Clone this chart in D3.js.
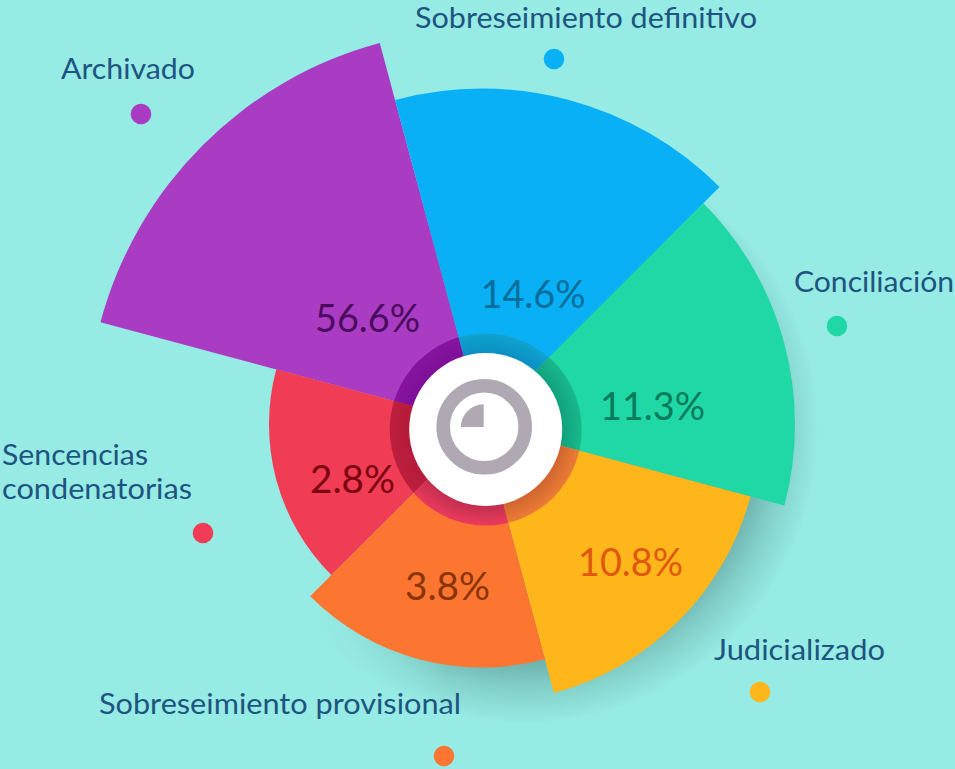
<!DOCTYPE html>
<html>
<head>
<meta charset="utf-8">
<script src="https://cdn.jsdelivr.net/npm/d3@7"></script>
<style>
html, body { margin: 0; padding: 0; background: #96ebe4; overflow: hidden; }
svg { display: block; }
text { font-family: Lato, "Open Sans", sans-serif; }
</style>
</head>
<body>
<svg id="chart" width="955" height="769"></svg>
<script>
// clockwise, starting from the purple slice
const categories = ['Archivado', 'Sobreseimiento definitivo', 'Conciliación', 'Judicializado', 'Sobreseimiento provisional', 'Sencencias condenatorias']
const values = [56.6, 14.6, 11.3, 10.8, 3.8, 2.8]

const sliceColors = ['#aa3cc4', '#0ab0f5', '#1fd8a6', '#ffb61b', '#fd7631', '#f13c55']
const valueColors = ['#4a0a5e', '#076d99', '#0a7a5c', '#e0570f', '#8a3408', '#7a0410']
const ringInner = ['#7f0f98', '#0b8fc4', '#11a27c', '#d0652e', '#c22f4f', '#b51b3a']
const ringOuter = ['#86149e', '#10a3cf', '#1ab88c', '#ec7c36', '#ea3a5c', '#bd1f3e']

const width = 955, height = 769
const center = {x: 482, y: 424.5}      // where the slice edges meet
const hub = {x: 485.7, y: 429.5}       // white disc + ring sit slightly off that
const hubR = 76.5, ringR = 96
const textColor = '#1e5480'

// the original is not proportional, radii were read off the picture per value
const rScale = d3.scaleLinear()
    .domain([2.8, 3.8, 10.8, 11.3, 14.6, 56.6])
    .range([213, 243, 278, 313, 336, 395])

// equal 60 degree slices, first one begins at -75 degrees
const pie = d3.pie().value(() => 1).sort(null)
    .startAngle(-75 * Math.PI / 180)
    .endAngle(285 * Math.PI / 180)
const slices = pie(values)

const arc = d3.arc().innerRadius(0).outerRadius(d => rScale(d.data))

// placement of the texts and dots
const valuePos = [[367.5, 332], [533, 308], [652.5, 420], [630.5, 576], [447.5, 600], [352.5, 493]]
const dotPos = [[141, 114], [554, 59], [837, 326], [760, 692], [444, 756], [203, 533]]
const labelLines = [
    [{t: 'Archivado', x: 61, y: 79, w: 134}],
    [{t: 'Sobreseimiento definitivo', x: 415, y: 28, w: 342}],
    [{t: 'Conciliación', x: 794, y: 292, w: 160}],
    [{t: 'Judicializado', x: 714, y: 660, w: 171}],
    [{t: 'Sobreseimiento provisional', x: 99, y: 714, w: 362}],
    [{t: 'Sencencias', x: 2, y: 465, w: 146}, {t: 'condenatorias', x: 2, y: 499, w: 190}]
]

let svg = d3.select('#chart')
let defs = svg.append('defs')

// soft round shadow sitting low and to the right of the wheel
let shadowGrad = defs.append('radialGradient').attr('id', 'shadow')
shadowGrad.append('stop').attr('offset', 0.75).attr('stop-color', '#35605f').attr('stop-opacity', 0.5)
shadowGrad.append('stop').attr('offset', 0.88).attr('stop-color', '#35605f').attr('stop-opacity', 0.2)
shadowGrad.append('stop').attr('offset', 1).attr('stop-color', '#35605f').attr('stop-opacity', 0)

// it dies out towards the left, nothing shows beside the red slice
let fadeGrad = defs.append('linearGradient')
    .attr('id', 'shadowFade')
    .attr('gradientUnits', 'userSpaceOnUse')
    .attr('x1', 320).attr('y1', 0)
    .attr('x2', 450).attr('y2', 0)
fadeGrad.append('stop').attr('offset', 0).attr('stop-color', '#000')
fadeGrad.append('stop').attr('offset', 1).attr('stop-color', '#fff')

defs.append('mask')
    .attr('id', 'shadowMask')
    .attr('maskUnits', 'userSpaceOnUse')
    .attr('x', 0).attr('y', 0)
    .attr('width', width).attr('height', height)
    .append('rect')
    .attr('width', width)
    .attr('height', height)
    .attr('fill', 'url(#shadowFade)')

slices.forEach(function(d, i) {
    defs.append('clipPath')
        .attr('id', 'clip' + i)
        .append('path')
        .attr('transform', `translate(${center.x},${center.y})`)
        .attr('d', arc(d))

    let grad = defs.append('radialGradient')
        .attr('id', 'ring' + i)
        .attr('gradientUnits', 'userSpaceOnUse')
        .attr('cx', hub.x).attr('cy', hub.y)
        .attr('r', ringR)
    grad.append('stop').attr('offset', hubR / ringR).attr('stop-color', ringInner[i])
    grad.append('stop').attr('offset', 1).attr('stop-color', ringOuter[i])
})

svg.append('rect')
    .attr('width', width)
    .attr('height', height)
    .attr('fill', '#96ebe4')

svg.append('circle')
    .attr('cx', 525)
    .attr('cy', 430)
    .attr('r', 293)
    .attr('fill', 'url(#shadow)')
    .attr('mask', 'url(#shadowMask)')

svg.append('g')
    .attr('transform', `translate(${center.x},${center.y})`)
    .selectAll('path')
    .data(slices)
    .enter().append('path')
    .attr('d', arc)
    .attr('fill', (d, i) => sliceColors[i])

// darker ring, one piece per slice
svg.append('g')
    .selectAll('circle')
    .data(slices)
    .enter().append('circle')
    .attr('cx', hub.x)
    .attr('cy', hub.y)
    .attr('r', ringR)
    .attr('clip-path', (d, i) => `url(#clip${i})`)
    .attr('fill', (d, i) => `url(#ring${i})`)

svg.append('circle')
    .attr('cx', hub.x)
    .attr('cy', hub.y)
    .attr('r', hubR)
    .attr('fill', 'white')

// little icon in the middle
svg.append('circle')
    .attr('cx', 484.2)
    .attr('cy', 426.8)
    .attr('r', 41)
    .attr('fill', 'none')
    .attr('stroke', '#b0a8b2')
    .attr('stroke-width', 13.6)

svg.append('path')
    .attr('transform', 'translate(483.7,427)')
    .attr('d', d3.arc()({innerRadius: 0, outerRadius: 22.8, startAngle: -Math.PI / 2, endAngle: 0}))
    .attr('fill', '#b0a8b2')

// percentages
svg.append('g')
    .selectAll('text')
    .data(values)
    .enter().append('text')
    .attr('x', (d, i) => valuePos[i][0])
    .attr('y', (d, i) => valuePos[i][1])
    .attr('text-anchor', 'middle')
    .attr('font-size', 39)
    .attr('textLength', d => d < 10 ? 85 : 105)
    .attr('lengthAdjust', 'spacingAndGlyphs')
    .attr('fill', (d, i) => valueColors[i])
    .text(d => d + '%')

// legend dots
svg.append('g')
    .selectAll('circle')
    .data(categories)
    .enter().append('circle')
    .attr('cx', (d, i) => dotPos[i][0])
    .attr('cy', (d, i) => dotPos[i][1])
    .attr('r', 10.3)
    .attr('fill', (d, i) => sliceColors[i])

// category names
svg.append('g')
    .selectAll('text')
    .data(labelLines.flat())
    .enter().append('text')
    .attr('x', d => d.x)
    .attr('y', d => d.y)
    .attr('font-size', 28)
    .attr('textLength', d => d.w)
    .attr('lengthAdjust', 'spacingAndGlyphs')
    .attr('fill', textColor)
    .text(d => d.t)
</script>
</body>
</html>
